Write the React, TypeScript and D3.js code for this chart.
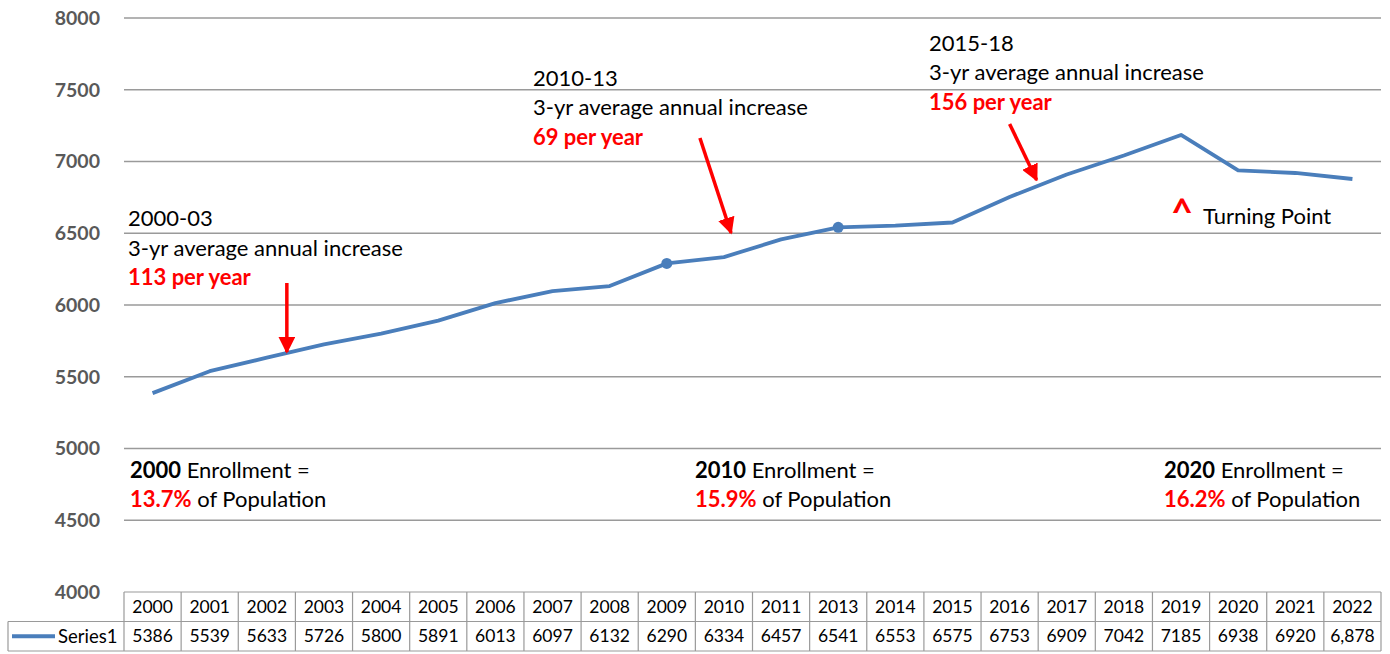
import { useMemo } from 'react';
import * as d3 from 'd3';

const years = ['2000', '2001', '2002', '2003', '2004', '2005', '2006', '2007', '2008', '2009', '2010', '2011', '2013', '2014', '2015', '2016', '2017', '2018', '2019', '2020', '2021', '2022'];
const enrollment = [5386, 5539, 5633, 5726, 5800, 5891, 6013, 6097, 6132, 6290, 6334, 6457, 6541, 6553, 6575, 6753, 6909, 7042, 7185, 6938, 6920, 6878];
const valueLabels = ['5386', '5539', '5633', '5726', '5800', '5891', '6013', '6097', '6132', '6290', '6334', '6457', '6541', '6553', '6575', '6753', '6909', '7042', '7185', '6938', '6920', '6,878'];
const markedYears = ['2009', '2013'];
const yTicks = [4000, 4500, 5000, 5500, 6000, 6500, 7000, 7500, 8000];

const W = 1390;
const H = 654;
const FONT = 'Lato, "Open Sans", sans-serif';
const BLUE = '#4a7ebb';
const RED = '#ff0000';
const GRID = '#9a9a9a';

export default function App() {
  const plot = { left: 124, right: 1381, top: 18, bottom: 592 };
  const rowH = 29.5;

  const x = useMemo(
    () => d3.scaleBand<string>().domain(years).range([plot.left, plot.right]),
    [],
  );
  const y = useMemo(
    () => d3.scaleLinear().domain([4000, 8000]).range([plot.bottom, plot.top]),
    [],
  );
  const cx = (yr: string) => (x(yr) as number) + x.bandwidth() / 2;

  const line = d3
    .line<number>()
    .x((_, i) => cx(years[i]))
    .y((d) => y(d));

  const rows = [plot.bottom, plot.bottom + rowH, plot.bottom + rowH * 2];
  const rowMid = (r: number) => (rows[r] + rows[r + 1]) / 2;

  // arrows, anchored on category positions
  const arrows = [
    { x1: cx('2002') + 20, y1: 283, x2: cx('2002') + 20, y2: 352 },
    { x1: cx('2010') - 24, y1: 138, x2: cx('2011') - 50, y2: 233 },
    { x1: cx('2016') + 0, y1: 124, x2: cx('2016') + 27, y2: 180 },
  ];

  return (
    <svg
      width={W}
      height={H}
      style={{ position: 'absolute', left: 0, top: 0, background: '#fff' }}
      fontFamily={FONT}
    >
      <defs>
        <marker
          id="arrowhead"
          viewBox="0 -5 10 10"
          refX={9}
          refY={0}
          orient="auto"
          markerUnits="userSpaceOnUse"
          markerWidth={17}
          markerHeight={17}
        >
          <path d="M0,-5L10,0L0,5Z" fill={RED} />
        </marker>
      </defs>

      {/* gridlines */}
      {yTicks.filter((t) => t > 4000).map((t) => (
        <line key={t} x1={plot.left} x2={plot.right} y1={y(t)} y2={y(t)} stroke={GRID} strokeWidth={1.5} />
      ))}

      {/* y labels */}
      {yTicks.map((t) => (
        <text
          key={t}
          x={100}
          y={y(t)}
          dy="0.35em"
          textAnchor="end"
          fontSize={19.5}
          fontWeight="bold"
          fill="#595959"
        >
          {t}
        </text>
      ))}

      {/* data table */}
      <g stroke={GRID} strokeWidth={1.2} fill="none">
        <line x1={plot.left} x2={plot.right} y1={rows[0]} y2={rows[0]} />
        <line x1={8} x2={plot.right} y1={rows[1]} y2={rows[1]} />
        <line x1={8} x2={plot.right} y1={rows[2]} y2={rows[2]} />
        <line x1={8} x2={8} y1={rows[1]} y2={rows[2]} />
        {years.map((yr) => (
          <line key={yr} x1={x(yr)} x2={x(yr)} y1={rows[0]} y2={rows[2]} />
        ))}
        <line x1={plot.right} x2={plot.right} y1={rows[0]} y2={rows[2]} />
      </g>
      <line x1={12} x2={55} y1={rowMid(1)} y2={rowMid(1)} stroke={BLUE} strokeWidth={4} />
      <text x={58} y={rowMid(1)} dy="0.35em" fontSize={18.5} fill="#000">
        Series1
      </text>
      {years.map((yr, i) => (
        <g key={yr}>
          <text x={cx(yr)} y={rowMid(0)} dy="0.35em" textAnchor="middle" fontSize={17.5} fill="#000">
            {yr}
          </text>
          <text x={cx(yr)} y={rowMid(1)} dy="0.35em" textAnchor="middle" fontSize={17.5} fill="#000">
            {valueLabels[i]}
          </text>
        </g>
      ))}

      {/* series line */}
      <path d={line(enrollment) ?? ''} fill="none" stroke={BLUE} strokeWidth={3.8} strokeLinejoin="round" />
      {markedYears.map((yr) => (
        <circle key={yr} cx={cx(yr)} cy={y(enrollment[years.indexOf(yr)])} r={5.5} fill={BLUE} />
      ))}

      {/* arrows */}
      {arrows.map((a, i) => (
        <line key={i} x1={a.x1} y1={a.y1} x2={a.x2} y2={a.y2} stroke={RED} strokeWidth={3.5} markerEnd="url(#arrowhead)" />
      ))}

      {/* period annotations */}
      <g fontSize={22} fill="#000">
        <text x={128} y={226}>2000-03</text>
        <text x={128} y={256}>3-yr average annual increase</text>
        <text x={128} y={285} fill={RED} fontWeight="bold">113 per year</text>

        <text x={533} y={86}>2010-13</text>
        <text x={533} y={115}>3-yr average annual increase</text>
        <text x={533} y={145} fill={RED} fontWeight="bold">69 per year</text>

        <text x={929} y={51}>2015-18</text>
        <text x={929} y={80}>3-yr average annual increase</text>
        <text x={929} y={110} fill={RED} fontWeight="bold">156 per year</text>

        <text x={1182} y={226} textAnchor="middle" fill={RED} fontWeight="bold" fontSize={38}>^</text>
        <text x={1203} y={224}>Turning Point</text>

        <text x={130} y={478}>
          <tspan fontWeight="bold">2000</tspan> Enrollment =
        </text>
        <text x={130} y={507}>
          <tspan fill={RED} fontWeight="bold">13.7%</tspan> of Population
        </text>
        <text x={695} y={478}>
          <tspan fontWeight="bold">2010</tspan> Enrollment =
        </text>
        <text x={695} y={507}>
          <tspan fill={RED} fontWeight="bold">15.9%</tspan> of Population
        </text>
        <text x={1164} y={478}>
          <tspan fontWeight="bold">2020</tspan> Enrollment =
        </text>
        <text x={1164} y={507}>
          <tspan fill={RED} fontWeight="bold">16.2%</tspan> of Population
        </text>
      </g>
    </svg>
  );
}
